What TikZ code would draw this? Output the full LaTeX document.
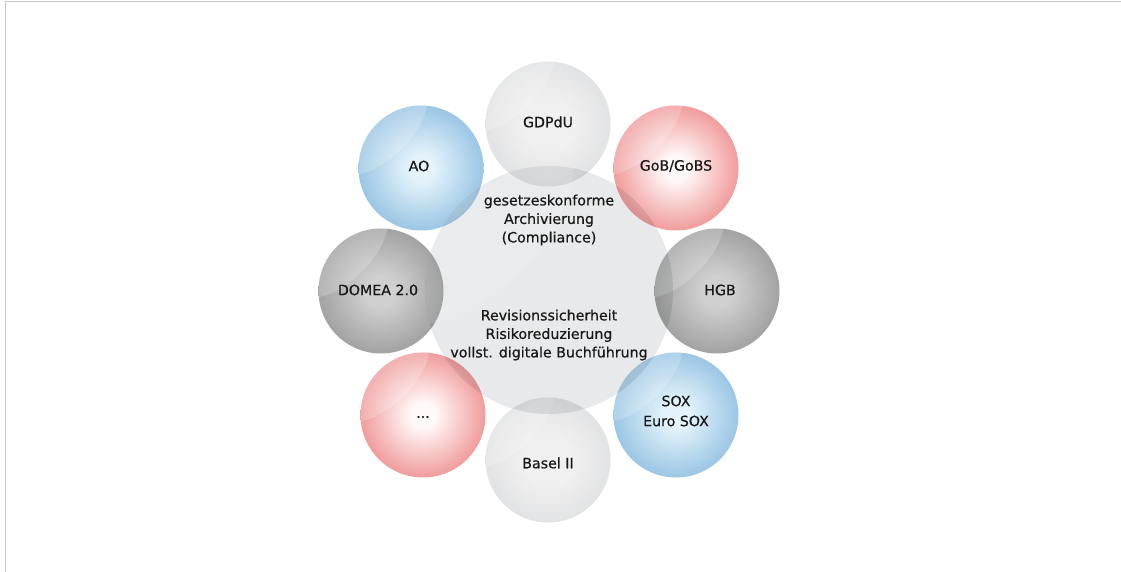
\documentclass[tikz,border=0pt]{standalone}
\usepackage{fontspec}
\setmainfont[FakeBold=0.6]{DejaVu Sans}
\definecolor{txt}{RGB}{25,25,25}
\definecolor{frame}{RGB}{200,200,200}
% blue
\definecolor{bIn}{RGB}{228,243,251}
\definecolor{bMid}{RGB}{158,200,229}
\definecolor{bOut}{RGB}{110,164,206}
% red
\definecolor{rIn}{RGB}{255,248,248}
\definecolor{rMid}{RGB}{241,160,160}
\definecolor{rOut}{RGB}{229,110,116}
% dark grey
\definecolor{dIn}{RGB}{208,208,208}
\definecolor{dMid}{RGB}{160,160,160}
\definecolor{dOut}{RGB}{110,110,110}
% light grey
\definecolor{lIn}{RGB}{240,240,241}
\definecolor{lMid}{RGB}{223,224,225}
\definecolor{lOut}{RGB}{200,201,203}
% centre
\definecolor{cIn}{RGB}{232,233,234}
\definecolor{cOut}{RGB}{216,217,219}
\pgfdeclareradialshading{ballblue}{\pgfpoint{0bp}{0bp}}{color(0bp)=(bIn); color(5bp)=(bIn); color(24bp)=(bMid); color(50bp)=(bOut)}
\pgfdeclareradialshading{ballred}{\pgfpoint{0bp}{0bp}}{color(0bp)=(rIn); color(5bp)=(rIn); color(24bp)=(rMid); color(50bp)=(rOut)}
\pgfdeclareradialshading{balldark}{\pgfpoint{0bp}{0bp}}{color(0bp)=(dIn); color(6bp)=(dIn); color(26bp)=(dMid); color(50bp)=(dOut)}
\pgfdeclareradialshading{balllight}{\pgfpoint{0bp}{0bp}}{color(0bp)=(lIn); color(10bp)=(lIn); color(28bp)=(lMid); color(50bp)=(lOut)}
\pgfdeclareradialshading{ballcentre}{\pgfpoint{0bp}{0bp}}{color(0bp)=(cIn); color(30bp)=(cIn); color(50bp)=(cOut)}
\tikzset{
  ball/.style={circle, minimum size=125pt, inner sep=0pt, text=txt, align=center,
    font=\fontsize{14.2}{20}\selectfont},
  bigball/.style={circle, minimum size=248pt, inner sep=0pt},
  ctext/.style={text=txt, align=center, font=\fontsize{14.2}{18.5}\selectfont},
  gloss/.style={white, fill opacity=0.2},
}
\newcommand{\glossy}[1]{%
  \begin{scope}
    \clip (#1.center) circle (62.5pt);
    \fill[gloss, shift={(#1.center)}, shift={(-39pt,39pt)}, rotate=45] (0,0) ellipse (58pt and 28pt);
  \end{scope}}
\begin{document}
\begin{tikzpicture}[x=1pt,y=1pt]
\useasboundingbox (0,0) rectangle (1121,572);
\fill[white] (0,0) rectangle (1121,572);
\draw[frame, line width=1.6pt] (5.5,0) -- (5.5,570.5) -- (1121,570.5);

\node[ball, shading=balllight] (gdpdu) at (548,448) {};
\node[ball, shading=ballblue]  (ao)    at (421,404) {};
\node[ball, shading=ballred]   (gob)   at (676,404) {};
\node[ball, shading=balldark]  (domea) at (381,281) {};
\node[ball, shading=balldark]  (hgb)   at (717,281) {};
\node[ball, shading=ballred]   (dots)  at (423,157) {};
\node[ball, shading=ballblue]  (sox)   at (676,157) {};
\node[ball, shading=balllight] (basel) at (548,112) {};

\glossy{gdpdu}\glossy{ao}\glossy{gob}\glossy{domea}
\glossy{hgb}\glossy{dots}\glossy{sox}\glossy{basel}

\node[ball] at (548,450) {GDPdU};
\node[ball] at (419,406) {AO};
\node[ball] at (676,406) {GoB/GoBS};
\node[ball] at (378,282) {DOMEA 2.0};
\node[ball] at (720,282) {HGB};
\node[ball] at (423,155) {...};
\node[ball] at (676,161) {SOX\\Euro SOX};
\node[ball] at (548,109) {Basel II};

\begin{scope}[blend mode=multiply]
  \node[bigball, shading=ballcentre] (centre) at (549,282) {};
\end{scope}
\begin{scope}
  \clip (centre.center) circle (124pt);
  \fill[white, fill opacity=0.13, shift={(centre.center)}, shift={(-70pt,60pt)}, rotate=45] (0,0) ellipse (120pt and 58pt);
\end{scope}
\node[ctext] (upper) at (549,352) {gesetzeskonforme\\Archivierung\\(Compliance)};
\node[ctext] (lower) at (549,237) {Revisionssicherheit\\Risikoreduzierung\\vollst. digitale Buchführung};
\end{tikzpicture}
\end{document}
